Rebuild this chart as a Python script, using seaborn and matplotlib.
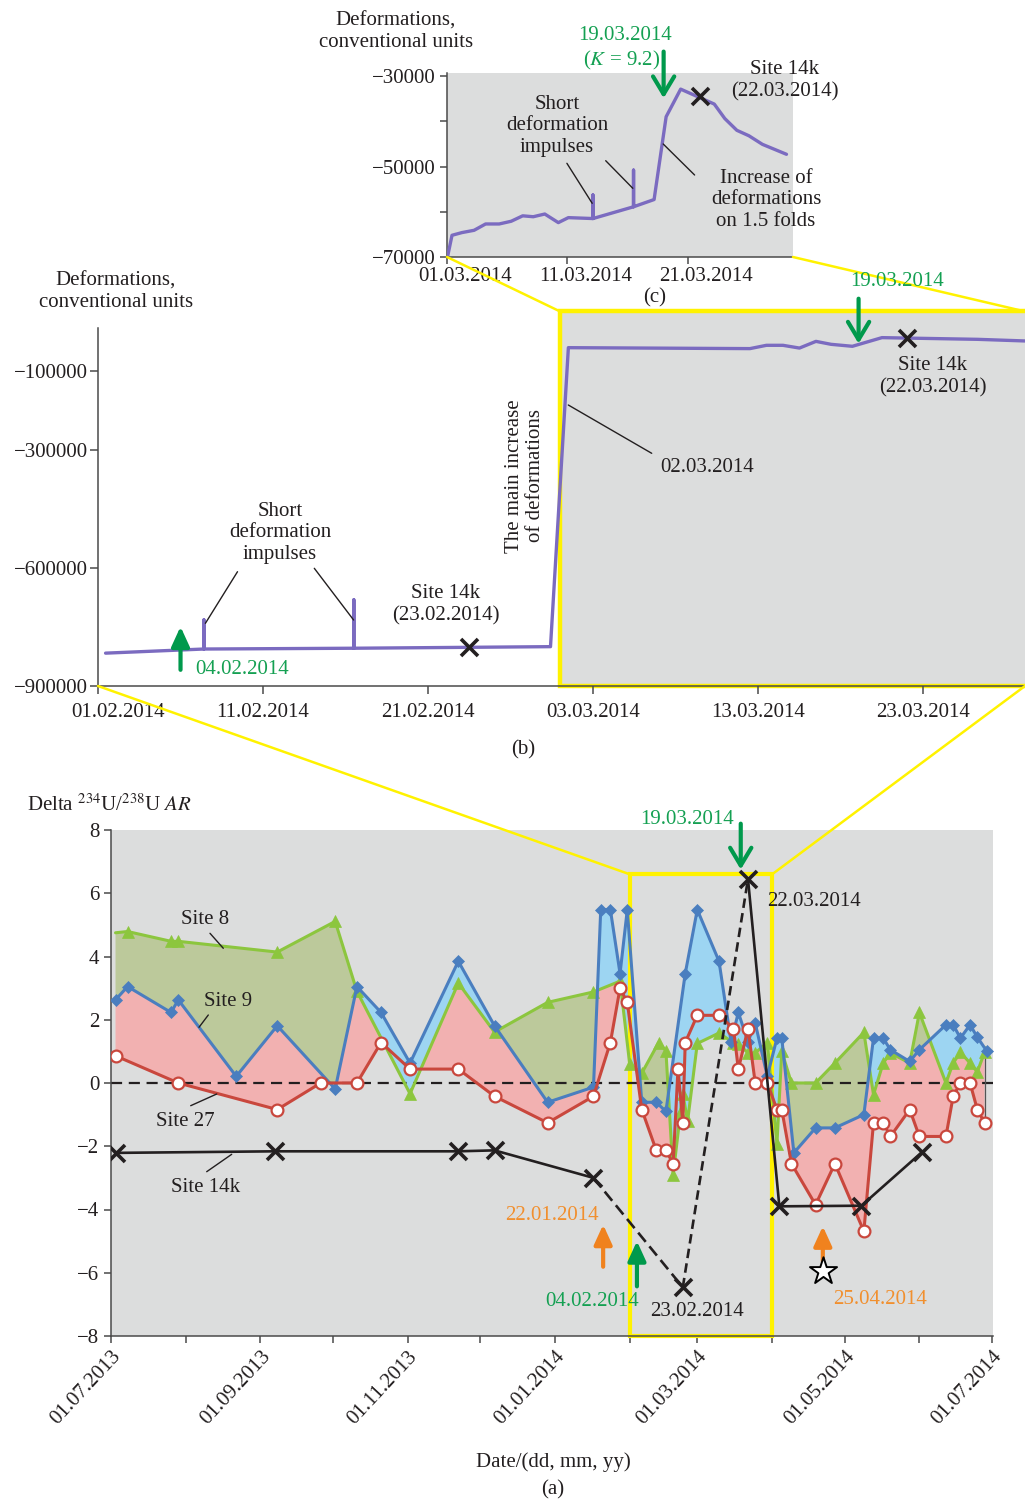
import numpy as np
import pandas as pd
import matplotlib
matplotlib.use("Agg")
import matplotlib.pyplot as plt
import matplotlib.dates as mdates
import matplotlib.transforms as mtransforms
from matplotlib.lines import Line2D
from matplotlib.patches import Rectangle, ConnectionPatch
import seaborn as sns

# ---------------- data, panel (a): Delta 234U/238U AR ----------------
site8_dates = ["2013-07-03", "2013-07-08", "2013-07-26", "2013-07-29", "2013-09-08", "2013-10-02",
               "2013-10-11", "2013-11-02", "2013-11-22", "2013-12-07", "2013-12-29", "2014-01-17",
               "2014-01-28", "2014-02-01", "2014-02-06", "2014-02-13", "2014-02-16", "2014-02-19",
               "2014-02-22", "2014-02-23", "2014-02-25", "2014-03-01", "2014-03-10", "2014-03-16",
               "2014-03-18", "2014-03-22", "2014-03-25", "2014-03-30", "2014-04-03", "2014-04-05",
               "2014-04-09", "2014-04-19", "2014-04-27", "2014-05-09", "2014-05-13", "2014-05-17",
               "2014-05-20", "2014-05-28", "2014-06-01", "2014-06-12", "2014-06-15", "2014-06-18",
               "2014-06-22", "2014-06-25", "2014-06-28"]
site8_values = [4.75, 4.79, 4.48, 4.48, 4.14, 5.11, 2.90, -0.34, 3.16, 1.61, 2.55, 2.88,
                3.22, 0.60, 0.31, 1.28, 1.02, -2.90, -0.95, -0.35, -1.20, 1.25, 1.58, 1.27,
                1.24, 0.95, 0.95, 1.28, -1.93, 1.00, 0.00, 0.00, 0.63, 1.60, -0.37, 0.63,
                0.95, 0.63, 2.23, 0.00, 0.63, 0.97, 0.63, 0.35, 0.97]

site9_dates = ["2013-07-03", "2013-07-08", "2013-07-26", "2013-07-29", "2013-08-22", "2013-09-08",
               "2013-10-02", "2013-10-11", "2013-10-21", "2013-11-02", "2013-11-22", "2013-12-07",
               "2013-12-29", "2014-01-17", "2014-01-20", "2014-01-24", "2014-01-28", "2014-01-31",
               "2014-02-06", "2014-02-12", "2014-02-16", "2014-02-24", "2014-03-01", "2014-03-10",
               "2014-03-15", "2014-03-18", "2014-03-22", "2014-03-25", "2014-03-30", "2014-04-03",
               "2014-04-05", "2014-04-10", "2014-04-19", "2014-04-27", "2014-05-09", "2014-05-13",
               "2014-05-17", "2014-05-20", "2014-05-28", "2014-06-01", "2014-06-12", "2014-06-15",
               "2014-06-18", "2014-06-22", "2014-06-25", "2014-06-29"]
site9_values = [2.63, 3.05, 2.23, 2.63, 0.21, 1.81, -0.19, 3.05, 2.23, 0.63, 3.85, 1.81,
                -0.61, -0.13, 5.48, 5.48, 3.46, 5.48, -0.61, -0.61, -0.90, 3.46, 5.48, 3.85,
                1.30, 2.23, 1.30, 1.90, 0.21, 1.42, 1.42, -2.21, -1.42, -1.42, -1.00, 1.42,
                1.42, 1.05, 0.68, 1.05, 1.84, 1.84, 1.42, 1.84, 1.45, 1.00]

site27_dates = ["2013-07-03", "2013-07-29", "2013-09-08", "2013-09-26", "2013-10-11", "2013-10-21",
                "2013-11-02", "2013-11-22", "2013-12-07", "2013-12-29", "2014-01-17", "2014-01-24",
                "2014-01-28", "2014-01-31", "2014-02-06", "2014-02-12", "2014-02-16", "2014-02-19",
                "2014-02-21", "2014-02-23", "2014-02-24", "2014-03-01", "2014-03-10", "2014-03-16",
                "2014-03-18", "2014-03-22", "2014-03-25", "2014-03-30", "2014-04-03", "2014-04-05",
                "2014-04-09", "2014-04-19", "2014-04-27", "2014-05-09", "2014-05-13", "2014-05-17",
                "2014-05-20", "2014-05-28", "2014-06-01", "2014-06-12", "2014-06-15", "2014-06-18",
                "2014-06-22", "2014-06-25", "2014-06-28"]
site27_values = [0.86, 0.00, -0.84, 0.00, 0.00, 1.28, 0.44, 0.44, -0.42, -1.26, -0.42, 1.28,
                 3.00, 2.55, -0.84, -2.13, -2.13, -2.55, 0.44, -1.26, 1.28, 2.14, 2.14, 1.72,
                 0.43, 1.72, 0.00, 0.00, -0.84, -0.84, -2.55, -3.85, -2.55, -4.69, -1.26, -1.26,
                 -1.69, -0.84, -1.69, -1.69, -0.42, 0.00, 0.00, -0.84, -1.26]

site14k_dates = ["2013-07-03", "2013-09-07", "2013-11-22", "2013-12-07", "2014-01-17",
                 "2014-02-23", "2014-03-22", "2014-04-04", "2014-05-08", "2014-06-02"]
site14k_values = [-2.21, -2.16, -2.16, -2.13, -3.00, -6.46, 6.45, -3.90, -3.88, -2.19]

# ---------------- data, panel (b): deformations Feb-Mar 2014 ----------------
b_times = ["2014-02-01 11:00", "2014-02-07 10:00", "2014-02-07 10:00", "2014-02-07 10:00",
           "2014-02-16 12:00", "2014-02-16 12:00", "2014-02-16 12:00", "2014-02-28 10:00",
           "2014-03-01 12:00", "2014-03-12 12:00", "2014-03-13 12:00", "2014-03-14 12:00",
           "2014-03-15 12:00", "2014-03-16 12:00", "2014-03-17 10:00", "2014-03-18 17:00",
           "2014-03-20 12:00", "2014-03-26 07:00", "2014-03-29 05:00"]
b_values = [-816500, -806000, -732000, -806000, -804000, -681000, -804000, -800000,
            -40000, -42400, -34000, -34000, -41000, -24000, -31500, -36500,
            -14500, -18800, -23000]
b_site14k_times = ["2014-02-23 12:00", "2014-03-22 00:00"]
b_site14k_values = [-799700, -15400]
b_xticks = ["2014-02-01", "2014-02-11", "2014-02-21", "2014-03-03", "2014-03-13", "2014-03-23"]
b_yticks = [-100000, -300000, -600000, -900000]

# ---------------- data, panel (c): deformations March 2014 ----------------
c_times = ["2014-03-01 01:00", "2014-03-01 10:00", "2014-03-02 06:00", "2014-03-03 06:00",
           "2014-03-04 05:00", "2014-03-05 08:00", "2014-03-06 08:00", "2014-03-07 07:00",
           "2014-03-08 04:00", "2014-03-09 03:00", "2014-03-10 06:00", "2014-03-11 02:00",
           "2014-03-13 03:00", "2014-03-13 03:00", "2014-03-13 03:00", "2014-03-16 12:00",
           "2014-03-16 12:00", "2014-03-16 12:00", "2014-03-18 05:00", "2014-03-19 05:00",
           "2014-03-20 10:00", "2014-03-23 05:00", "2014-03-24 02:00", "2014-03-25 02:00",
           "2014-03-26 02:00", "2014-03-27 05:00", "2014-03-29 05:00"]
c_values = [-70000, -65200, -64600, -64100, -62700, -62700, -62100, -60900, -61100, -60500,
            -62400, -61300, -61500, -56300, -61500, -58900, -50800, -58900, -57300, -39000,
            -32900, -36200, -39400, -42000, -43200, -45100, -47300]
c_site14k_times = ["2014-03-22 00:00"]
c_site14k_values = [-34400]
c_xticks = ["2014-03-01", "2014-03-11", "2014-03-21"]
c_yticks = [-30000, -40000, -50000, -60000, -70000]

# ---------------- style ----------------
sns.set_theme(style="ticks")
plt.rcParams["font.family"] = ["Liberation Serif", "DejaVu Serif"]
plt.rcParams["mathtext.fontset"] = "stix"
plt.rcParams["font.size"] = 15

INK = "#231f20"
SPINE = "#4a4a4a"
GREY_BG = "#dcdddd"
YELLOW = "#fff200"
C8, C9, C27 = "#8cc63e", "#4a7ebf", "#c9473d"
F8, F9, F27 = "#bcc99b", "#9dd5f2", "#f2b1b1"
PURPLE = "#7b6bc0"
GREEN_T, GREEN_A = "#14a052", "#00994c"
ORANGE_T, ORANGE_A = "#f18f2e", "#f0821e"

W, H = 1025, 1500
fig = plt.figure(figsize=(W / 100, H / 100), dpi=100)


def note(x, y, s, color=INK, **kw):
    kw.setdefault("ha", "center")
    kw.setdefault("va", "center")
    kw.setdefault("linespacing", 1.2)
    fig.text(x / W, 1 - y / H, s, color=color, fontsize=15, **kw)


def leader(x1, y1, x2, y2):
    fig.add_artist(Line2D([x1 / W, x2 / W], [1 - y1 / H, 1 - y2 / H], color=INK, lw=1.0))


def dnum(s):
    return mdates.date2num(pd.Timestamp(s))


def arrow(ax, when, y_from, y_to, color, filled):
    style = "-|>,head_length=0.7,head_width=0.32" if filled else "->,head_length=0.75,head_width=0.45"
    ax.annotate("", xy=(dnum(when), y_to), xytext=(dnum(when), y_from),
                arrowprops=dict(arrowstyle=style, color=color, lw=3, shrinkA=0, shrinkB=0,
                                mutation_scale=17),
                annotation_clip=False, zorder=6)


def style_axes(ax, tick_len, xpad, ypad):
    for s in ("top", "right"):
        ax.spines[s].set_visible(False)
    for s in ("left", "bottom"):
        ax.spines[s].set_color(SPINE)
        ax.spines[s].set_linewidth(1.1)
    ax.tick_params(direction="out", length=tick_len, width=1.1, color=SPINE,
                   labelcolor=INK, labelsize=15, bottom=True, left=True)
    ax.tick_params(axis="x", pad=xpad)
    ax.tick_params(axis="y", pad=ypad)
    ax.set_xlabel("")
    ax.set_ylabel("")


def minus(v):
    return f"{v}".replace("-", "\u2212")


ax_a = fig.add_axes([110.7 / W, 1 - 1336 / H, 882.3 / W, 506 / H])
ax_b = fig.add_axes([98 / W, 1 - 686 / H, 927 / W, 358 / H])
ax_c = fig.add_axes([447 / W, 1 - 257 / H, 346 / W, 183.7 / H])

# ================= panel (a) =================
ax = ax_a
ax.set_facecolor(GREY_BG)
t8, t9, t27 = pd.to_datetime(site8_dates), pd.to_datetime(site9_dates), pd.to_datetime(site27_dates)
t14 = pd.to_datetime(site14k_dates)
v14 = np.array(site14k_values)

sns.lineplot(x=t8, y=site8_values, ax=ax, color=C8, linewidth=2.2, marker="^", markersize=9,
             markeredgecolor=C8, markeredgewidth=0.5, markevery=list(range(1, len(t8))),
             estimator=None, sort=False, zorder=3)
sns.lineplot(x=t9, y=site9_values, ax=ax, color=C9, linewidth=2.2, marker="D", markersize=6.2,
             markeredgecolor=C9, markeredgewidth=0.5, estimator=None, sort=False, zorder=3.2)
sns.lineplot(x=t27, y=site27_values, ax=ax, color=C27, linewidth=2.2, marker="o", markersize=8.5,
             markerfacecolor="white", markeredgecolor=C27, markeredgewidth=1.6,
             estimator=None, sort=False, zorder=3.4)

# shaded bands between the three site curves
n8, n9, n27 = mdates.date2num(t8), mdates.date2num(t9), mdates.date2num(t27)
grid = np.linspace(max(n8[0], n9[0], n27[0]), min(n8[-1], n9[-1], n27[-1]), 5000)
s8 = np.interp(grid, n8, site8_values)
s9 = np.interp(grid, n9, site9_values)
s27 = np.interp(grid, n27, site27_values)
low = np.minimum(s8, s9)
ax.fill_between(grid, s8, s9, where=s8 >= s9, interpolate=True, color=F8, lw=0, zorder=1)
ax.fill_between(grid, s9, s8, where=s9 >= s8, interpolate=True, color=F9, lw=0, zorder=1)
ax.fill_between(grid, low, s27, where=low >= s27, interpolate=True, color=F27, lw=0, zorder=1)
ax.plot([grid[-1]] * 2, [s27[-1], max(s8[-1], s9[-1])], color="#555555", lw=0.9, zorder=2.5)

ax.axhline(0, color=INK, lw=1.6, ls=(0, (5, 3)), zorder=2)

segments = [(slice(0, 5), "-"), (slice(4, 6), (0, (4.5, 2.2))),
            (slice(5, 7), (0, (3.6, 2.0))), (slice(6, None), "-")]
for sl, ls in segments:
    sns.lineplot(x=t14[sl], y=v14[sl], ax=ax, color=INK, linewidth=1.9, linestyle=ls,
                 estimator=None, sort=False, zorder=4)
sns.scatterplot(x=t14, y=v14, ax=ax, marker="x", s=150, color=INK, linewidth=2.6, zorder=5)

ax.add_patch(Rectangle((dnum("2014-02-01"), -8), dnum("2014-04-01") - dnum("2014-02-01"), 14.6,
                       fill=False, edgecolor=YELLOW, linewidth=3, zorder=1.8, clip_on=False))

arrow(ax, "2014-03-19", 8.2, 6.75, GREEN_A, False)
arrow(ax, "2014-01-21", -5.81, -4.48, ORANGE_A, True)
arrow(ax, "2014-02-04", -6.43, -5.0, GREEN_A, True)
arrow(ax, "2014-04-22", -5.64, -4.53, ORANGE_A, True)
sns.scatterplot(x=pd.to_datetime(["2014-04-22"]), y=[-5.96], ax=ax, marker="*", s=420,
                color="white", edgecolor="black", linewidth=1.4, zorder=6)

ax.set_xlim(pd.Timestamp("2013-07-01"), pd.Timestamp("2014-07-01 12:00"))
ax.set_ylim(-8, 8)
ax.set_yticks(range(8, -9, -2))
ax.set_yticklabels([minus(v) for v in range(8, -9, -2)])
months = pd.date_range("2013-07-01", "2014-07-01", freq="MS")
ax.set_xticks(months)
ax.set_xticklabels([m.strftime("%d.%m.%Y") if i % 2 == 0 else "" for i, m in enumerate(months)],
                   rotation=47, ha="right", va="top", rotation_mode="anchor")
style_axes(ax, 5, 3, 3)

# ================= panel (b) =================
ax = ax_b
tb = pd.to_datetime(b_times)
sns.lineplot(x=tb, y=b_values, ax=ax, color=PURPLE, linewidth=2.4, estimator=None, sort=False,
             zorder=3)
sns.scatterplot(x=pd.to_datetime(b_site14k_times), y=b_site14k_values, ax=ax, marker="x", s=150,
                color=INK, linewidth=2.6, zorder=5)
ax.add_patch(Rectangle((dnum("2014-03-01"), -900000), 40, 952000, facecolor=GREY_BG,
                       edgecolor=YELLOW, linewidth=3.2, clip_on=False, zorder=0.5))
arrow(ax, "2014-02-06", -858900, -749000, GREEN_A, True)
arrow(ax, "2014-03-19 02:00", 84500, -29700, GREEN_A, False)

ax.set_xlim(pd.Timestamp("2014-02-01"), pd.Timestamp("2014-03-29 04:00"))
ax.set_ylim(-900000, 10000)
bt = pd.to_datetime(b_xticks)
ax.set_xticks(bt)
ax.set_xticklabels([t.strftime("%d.%m.%Y") for t in bt])
ax.set_yticks(b_yticks)
ax.set_yticklabels([minus(v) for v in b_yticks])
style_axes(ax, 6, 6, 1)
first = ax.get_xticklabels()[0]
first.set_transform(first.get_transform() + mtransforms.ScaledTranslation(0.2, 0, fig.dpi_scale_trans))

# ================= panel (c) =================
ax = ax_c
ax.set_facecolor(GREY_BG)
sns.lineplot(x=pd.to_datetime(c_times), y=c_values, ax=ax, color=PURPLE, linewidth=2.4,
             estimator=None, sort=False, zorder=3)
sns.scatterplot(x=pd.to_datetime(c_site14k_times), y=c_site14k_values, ax=ax, marker="x", s=150,
                color=INK, linewidth=2.6, zorder=5)
arrow(ax, "2014-03-19", -24600, -34900, GREEN_A, False)
ax.set_xlim(pd.Timestamp("2014-03-01"), pd.Timestamp("2014-03-29 18:00"))
ax.set_ylim(-70000, -29400)
ct = pd.to_datetime(c_xticks)
ax.set_xticks(ct)
ax.set_xticklabels([t.strftime("%d.%m.%Y") for t in ct])
ax.set_yticks(c_yticks)
ax.set_yticklabels([minus(v) if i % 2 == 0 else "" for i, v in enumerate(c_yticks)])
style_axes(ax, 5, 2, 3)
for lab in ax.get_xticklabels():
    lab.set_transform(lab.get_transform() + mtransforms.ScaledTranslation(0.18, 0, fig.dpi_scale_trans))

# ================= zoom connectors =================
def connect(xyA, transA, xyB, transB):
    fig.add_artist(ConnectionPatch(xyA=xyA, coordsA=transA, xyB=xyB, coordsB=transB,
                                   color=YELLOW, lw=1.8, zorder=1))

connect((0, 0), ax_c.transAxes, (dnum("2014-03-01"), 52000), ax_b.transData)
connect((1, 0), ax_c.transAxes, (dnum("2014-03-29 04:00"), 52000), ax_b.transData)
connect((0, 0), ax_b.transAxes, (dnum("2014-02-01"), 6.6), ax_a.transData)
connect((1, 0), ax_b.transAxes, (dnum("2014-04-01"), 6.6), ax_a.transData)

# ================= texts =================
# panel (c)
note(396, 32, "Deformations,\nconventional units")
note(625, 36, "19.03.2014", GREEN_T)
note(622, 60, "($K$ = 9.2)", GREEN_T)
note(785, 81, "Site 14k\n(22.03.2014)")
note(557, 126, "Short\ndeformation\nimpulses")
note(766, 200, "Increase of\ndeformations\non 1.5 folds")
note(655, 298, "(c)")
leader(566.9, 163.3, 592.2, 203.3)
leader(605.7, 160.7, 632.8, 188.3)
leader(663.2, 144, 694.6, 175)

# panel (b)
note(116, 292, "Deformations,\nconventional units")
note(280, 533, "Short\ndeformation\nimpulses")
note(446, 605, "Site 14k\n(23.02.2014)")
note(525, 476, "The main increase\nof deformations", rotation=90)
note(660, 467, "02.03.2014", ha="left")
note(897, 281, "19.03.2014", GREEN_T)
note(933, 377, "Site 14k\n(22.03.2014)")
note(195, 670, "04.02.2014", GREEN_T, ha="left")
note(523, 750, "(b)")
leader(237.5, 571.7, 205.4, 623.3)
leader(314.3, 568.3, 353.6, 620)
leader(568.3, 405, 651.7, 453.3)

# panel (a)
note(27, 805, "Delta $^{234}$U/$^{238}$U $AR$", ha="left")
note(205, 920, "Site 8")
note(228, 1001, "Site 9")
note(185, 1122, "Site 27")
note(206, 1187, "Site 14k")
note(687, 820, "19.03.2014", GREEN_T)
note(767, 901, "22.03.2014", ha="left")
note(552, 1216, "22.01.2014", ORANGE_T)
note(592, 1302, "04.02.2014", GREEN_T)
note(697, 1312, "23.02.2014")
note(880, 1300, "25.04.2014", ORANGE_T)
note(553, 1462, "Date/(dd, mm, yy)")
note(553, 1490, "(a)")
leader(210, 933.3, 223.3, 948.3)
leader(208.3, 1015, 199, 1027.3)
leader(190.7, 1105.7, 216.7, 1094)
leader(206.7, 1171.7, 231.7, 1154.3)

fig.savefig("out.png", dpi=100)
